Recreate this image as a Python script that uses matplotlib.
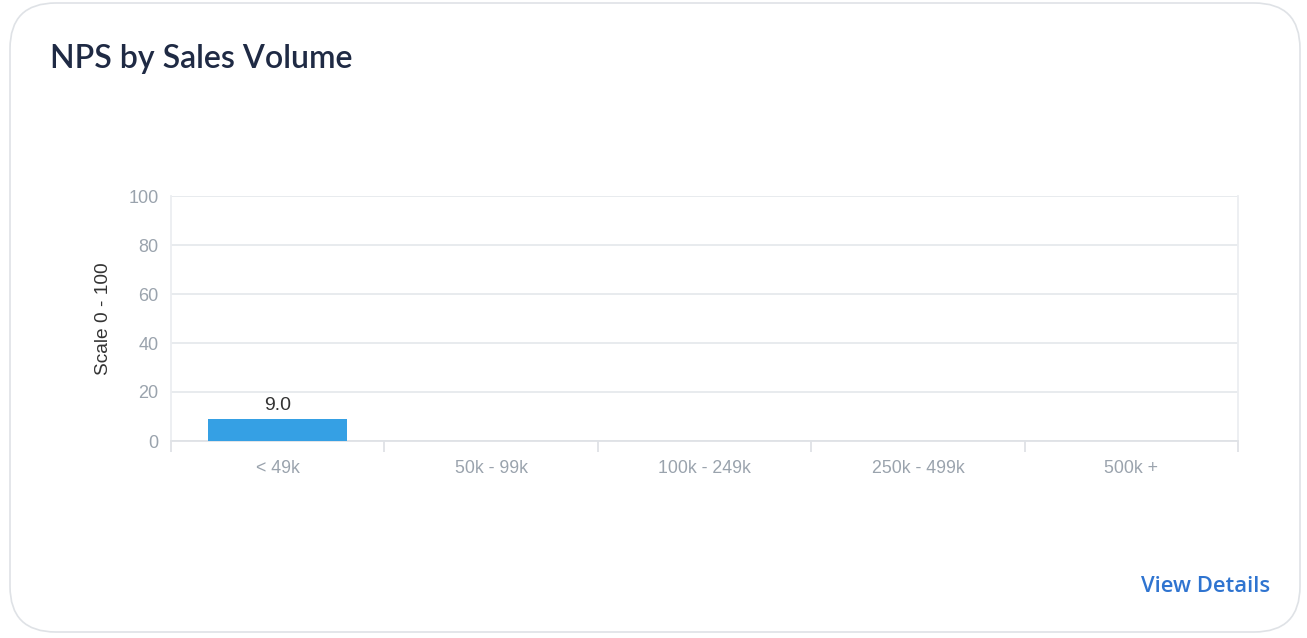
#!/usr/bin/python3

import matplotlib.pyplot as plt
from matplotlib.patches import FancyBboxPatch

# chart data
categories = ["< 49k", "50k - 99k", "100k - 249k", "250k - 499k", "500k +"]
nps_values = [9.0, 0, 0, 0, 0]
y_ticks = [0, 20, 40, 60, 80, 100]

W, H = 1307, 638
fig = plt.figure(figsize=(W / 100, H / 100), dpi=100)
fig.patch.set_facecolor("white")

# card outline (behind the axes)
card = FancyBboxPatch((10 / W, 6 / H), 1290 / W, 629 / H,
                      boxstyle="round,pad=0,rounding_size=0.035",
                      transform=fig.transFigure, facecolor="none",
                      edgecolor="#dfe2e6", linewidth=1.2,
                      mutation_aspect=W / H, zorder=-1)
fig.patches.append(card)

fig.text(50 / W, 1 - 59 / H, "NPS by Sales Volume", fontsize=23,
         fontweight="semibold", family="Lato", color="#1f2a44",
         va="center", ha="left")
fig.text(1270 / W, 1 - 587 / H, "View Details", fontsize=15.8,
         fontweight="semibold", family="Open Sans", color="#2f74d0",
         va="center", ha="right")

ax = fig.add_axes([171 / W, 1 - 441 / H, (1238 - 171) / W, (441 - 196) / H])
ax.set_facecolor("none")
x = range(len(categories))
bars = ax.bar(x, nps_values, width=0.65, color="#35a0e4", zorder=3)
for b, v in zip(bars, nps_values):
    if v > 0:
        ax.text(b.get_x() + b.get_width() / 2, v + 2, f"{v:.1f}",
                ha="center", va="bottom", fontsize=14, color="#333333",
                family="Liberation Sans")

ax.set_xlim(-0.5, len(categories) - 0.5)
ax.set_ylim(0, 100)
ax.set_yticks(y_ticks)
ax.yaxis.grid(True, color="#e6e9ed", linewidth=1.3, zorder=0)
ax.tick_params(axis="y", length=0, pad=9, labelsize=13,
               labelcolor="#9aa3ad")
ax.set_xticks(x)
ax.set_xticklabels(categories, family="Liberation Sans")
ax.set_xticks([i - 0.5 for i in range(len(categories) + 1)], minor=True)
ax.tick_params(axis="x", which="major", length=0, pad=14, labelsize=12.8,
               labelcolor="#9aa3ad")
ax.tick_params(axis="x", which="minor", length=8, color="#dfe2e6",
               width=1.3)
for lbl in ax.get_yticklabels():
    lbl.set_family("Liberation Sans")

for side in ["left", "right", "top"]:
    ax.spines[side].set_color("#eceef1")
    ax.spines[side].set_linewidth(1.3)
ax.spines["top"].set_visible(False)
ax.spines["bottom"].set_color("#dfe2e6")
ax.spines["bottom"].set_linewidth(1.3)

ax.set_ylabel("Scale 0 - 100", fontsize=13.8, color="#333333",
              family="Liberation Sans", labelpad=12)

fig.savefig("out.png", dpi=100, facecolor="white")
